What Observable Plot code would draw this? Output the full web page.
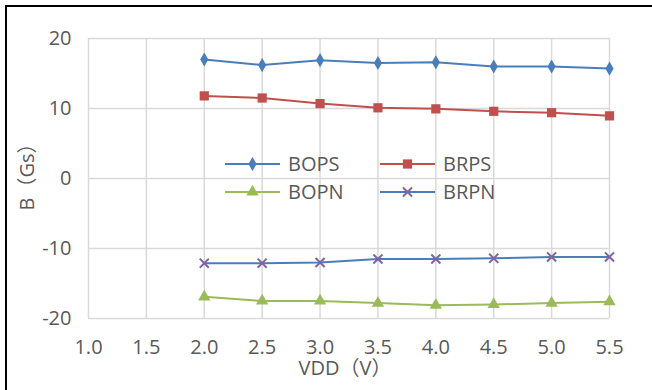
<!DOCTYPE html>
<html>
<head>
<meta charset="utf-8">
<script src="https://cdn.jsdelivr.net/npm/d3@7"></script>
<script src="https://cdn.jsdelivr.net/npm/@observablehq/plot@0.6"></script>
<style>
  html, body { margin: 0; padding: 0; background: white; }
  #wrap { position: relative; width: 652px; height: 390px; overflow: hidden; }
  #frame { position: absolute; left: 5px; top: 5px; right: -10px; bottom: -10px;
           border-left: 2px solid #000; border-top: 2px solid #000; pointer-events: none; }
  #legend { position: absolute; left: 0; top: 0; }
</style>
</head>
<body>
<div id="wrap"><div id="frame"></div></div>
<script>
const vdd  = [2.0, 2.5, 3.0, 3.5, 4.0, 4.5, 5.0, 5.5];
const bops = [17.0, 16.2, 16.9, 16.5, 16.6, 16.0, 16.0, 15.7];
const brps = [11.8, 11.5, 10.7, 10.1, 9.95, 9.6, 9.4, 8.95];
const bopn = [-16.9, -17.5, -17.5, -17.8, -18.1, -18.0, -17.8, -17.6];
const brpn = [-12.1, -12.1, -12.0, -11.5, -11.5, -11.4, -11.2, -11.2];
const xTicks = [1.0, 1.5, 2.0, 2.5, 3.0, 3.5, 4.0, 4.5, 5.0, 5.5];
const yTicks = [-20, -10, 0, 10, 20];
const seriesNames = ["BOPS", "BRPS", "BOPN", "BRPN"];

const series = [
  {name: "BOPS", values: bops, line: "#4A7EBB", fill: "#4A7EBB", symbol: "diamond", r: 4.3, stroke: "none"},
  {name: "BRPS", values: brps, line: "#C0504D", fill: "#C0504D", symbol: "square", r: 5.2, stroke: "none"},
  {name: "BOPN", values: bopn, line: "#9BBB59", fill: "#9BBB59", symbol: "triangle", r: 4.6, stroke: "none"},
  {name: "BRPN", values: brpn, line: "#4A7EBB", fill: "none", symbol: "times", r: 4.2, stroke: "#8064A2"}
];

const rows = series.flatMap(s => vdd.map((v, i) => ({x: v, y: s.values[i], name: s.name})));

const font = "'Open Sans','Noto Sans CJK SC',sans-serif";

const marks = [
  Plot.gridX(xTicks, {stroke: "#d9d9d9", strokeOpacity: 1, strokeWidth: 1.5}),
  Plot.gridY(yTicks, {stroke: "#d9d9d9", strokeOpacity: 1, strokeWidth: 1.5}),
  Plot.axisX({ticks: xTicks, tickSize: 0, tickPadding: 21, tickFormat: d => d.toFixed(1), label: null}),
  Plot.axisY({ticks: yTicks, tickSize: 0, tickPadding: 17, tickFormat: d => String(d), label: null}),
  Plot.text(["VDD（V）"], {frameAnchor: "bottom", lineAnchor: "middle", text: d => d, dy: 50, dx: -4, fill: "#595959"}),
  Plot.text(["B（Gs）"], {frameAnchor: "left", text: d => d, rotate: -90, dx: -61, dy: 32, fill: "#595959"})
];
for (const s of series) {
  const data = rows.filter(d => d.name === s.name);
  marks.push(Plot.line(data, {x: "x", y: "y", stroke: s.line, strokeWidth: 2}));
}
for (const s of series) {
  const data = rows.filter(d => d.name === s.name);
  marks.push(Plot.dot(data, {x: "x", y: "y", symbol: s.symbol, r: s.r,
    fill: s.fill, stroke: s.stroke, strokeWidth: s.stroke === "none" ? 0 : 2}));
}

const chart = Plot.plot({
  width: 652, height: 390,
  marginLeft: 88, marginRight: 43, marginTop: 38, marginBottom: 72,
  style: {fontFamily: font, fontSize: "20px", color: "#595959", background: "white", overflow: "visible"},
  x: {domain: [1, 5.5]},
  y: {domain: [-20, 20]},
  marks
});
const wrap = document.getElementById("wrap");
wrap.insertBefore(chart, wrap.firstChild);

// legend overlay
const symMap = {diamond: d3.symbolDiamond, square: d3.symbolSquare, triangle: d3.symbolTriangle, times: d3.symbolTimes};
const lg = d3.select(wrap).append("svg").attr("id", "legend")
  .attr("width", 652).attr("height", 390);
const cols = [225, 380], rowsY = [164, 192];
series.forEach((s, i) => {
  const x0 = cols[i % 2], y0 = rowsY[Math.floor(i / 2)];
  const g = lg.append("g").attr("transform", `translate(${x0},${y0})`);
  g.append("line").attr("x1", 0).attr("x2", 55).attr("y1", 0).attr("y2", 0)
    .attr("stroke", s.line).attr("stroke-width", 2);
  g.append("path").attr("transform", "translate(27.5,0)")
    .attr("d", d3.symbol(symMap[s.symbol], Math.PI * s.r * s.r)())
    .attr("fill", s.fill).attr("stroke", s.stroke).attr("stroke-width", s.stroke === "none" ? 0 : 2);
  g.append("text").attr("x", 63).attr("y", 0).attr("dy", "0.35em")
    .attr("font-family", font).attr("font-size", 20).attr("fill", "#595959")
    .text(seriesNames[i]);
});
</script>
</body>
</html>
